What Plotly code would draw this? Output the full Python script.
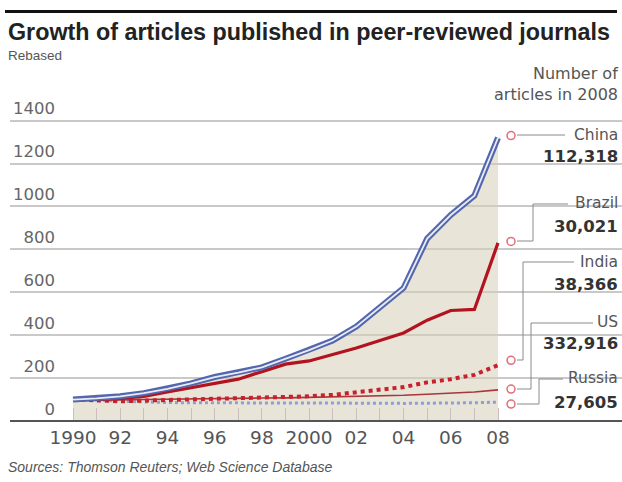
import plotly.graph_objects as go

years = list(range(1990, 2009))
china = [100, 105, 115, 130, 150, 175, 205, 225, 250, 290, 330, 375, 440, 530, 620, 850, 960, 1050, 1320]
brazil = [100, 100, 105, 115, 135, 155, 175, 195, 230, 265, 280, 310, 340, 375, 410, 470, 515, 520, 830]
india = [100, 95, 92, 95, 98, 100, 102, 105, 110, 112, 115, 122, 135, 145, 158, 180, 195, 215, 260]
us = [100, 98, 98, 100, 102, 104, 105, 106, 107, 108, 110, 112, 115, 118, 120, 125, 130, 135, 145]
russia = [100, 98, 92, 88, 86, 85, 85, 84, 85, 86, 86, 85, 84, 83, 82, 82, 83, 85, 88]

countries = ["China", "Brazil", "India", "US", "Russia"]
articles_2008 = ["112,318", "30,021", "38,366", "332,916", "27,605"]
marker_y = [1330, 837, 283, 149, 79]

x_tick_vals = years
x_tick_text = ["1990", "", "92", "", "94", "", "96", "", "98", "", "2000", "", "02", "", "04", "", "06", "", "08"]
y_tick_vals = [0, 200, 400, 600, 800, 1000, 1200, 1400]
y_tick_text = ["\u2007\u2007\u20070", "\u2007200", "\u2007400", "\u2007600", "\u2007800", "1000", "1200", "1400"]

W, H = 622, 482
PX0, PX1 = 10, 622           # plot area in pixels (x)
GRID_END = 505
PX_1990, PX_2008 = 73, 498
per_year = (PX_2008 - PX_1990) / 18
XR = [1990 - (PX_1990 - PX0) / per_year, 2008 + (PX1 - PX_2008) / per_year]
YR = [0, 1440]
Y_BOT, Y_TOP = 421, 112


def px2x(px):
    return XR[0] + (px - PX0) / (PX1 - PX0) * (XR[1] - XR[0])


def ppx(px):
    return px / W


def ppy(py):
    return (H - py) / H


fig = go.Figure()

fig.add_trace(go.Scatter(x=years, y=china, mode="lines", line=dict(width=0),
                         fill="tozeroy", fillcolor="rgba(214,206,184,0.55)", hoverinfo="skip"))
fig.add_trace(go.Scatter(x=years, y=russia, mode="lines",
                         line=dict(color="#8e9fd3", width=3, dash="dot")))
fig.add_trace(go.Scatter(x=years, y=us, mode="lines",
                         line=dict(color="#a8373a", width=1.6)))
fig.add_trace(go.Scatter(x=years, y=india, mode="lines",
                         line=dict(color="#c8202c", width=4, dash="dot")))
fig.add_trace(go.Scatter(x=years, y=brazil, mode="lines",
                         line=dict(color="#b3121f", width=3.2)))
fig.add_trace(go.Scatter(x=years, y=china, mode="lines",
                         line=dict(color="#5467ad", width=6)))
fig.add_trace(go.Scatter(x=years, y=china, mode="lines",
                         line=dict(color="#e8ecf8", width=1.8)))

fig.add_trace(go.Scatter(x=[px2x(511)] * len(marker_y), y=marker_y, mode="markers",
                         marker=dict(symbol="circle", size=8, color="white",
                                     line=dict(color="#e0707c", width=1.5)),
                         cliponaxis=False))

shapes = []
shapes.append(dict(type="rect", xref="paper", yref="paper", x0=ppx(GRID_END), x1=1.01,
                   y0=ppy(Y_BOT) - 0.01, y1=ppy(Y_TOP) + 0.01, fillcolor="white",
                   line=dict(width=0), layer="between"))
shapes.append(dict(type="line", xref="paper", yref="paper", x0=ppx(PX0), x1=1,
                   y0=ppy(Y_BOT), y1=ppy(Y_BOT), line=dict(color="#555555", width=2), layer="above"))

connectors = [
    (135, None, 135, 565),
    (241, 533, 204, 568),
    (360, 523, 262, 574),
    (389, 531, 323, 593),
    (404, 539, 379, 563),
]
for (my, ex, ly, endx) in connectors:
    if ex is None:
        pts = [(517, my), (endx, ly)]
    else:
        pts = [(517, my), (ex, my), (ex, ly), (endx, ly)]
    for (ax, ay), (bx, by) in zip(pts[:-1], pts[1:]):
        shapes.append(dict(type="line", xref="paper", yref="paper",
                           x0=ppx(ax), x1=ppx(bx), y0=ppy(ay), y1=ppy(by),
                           line=dict(color="#8a8a8a", width=1)))

label_name_py = [135, 203, 262, 322, 378]
label_val_py = [157, 226, 284, 343, 402]

FONT = "Liberation Sans, Arial, sans-serif"
WIDE = "DejaVu Sans, Verdana, sans-serif"


def ann(px, py, text, anchor, size, color, family=FONT):
    fig.add_annotation(x=ppx(px), y=ppy(py), xref="paper", yref="paper", text=text,
                       showarrow=False, xanchor=anchor, yanchor="middle",
                       font=dict(size=size, color=color, family=family))


for name, val, ny, vy in zip(countries, articles_2008, label_name_py, label_val_py):
    ann(620, ny, name, "right", 15.5, "#555", WIDE)
    ann(620, vy, "<b>" + val + "</b>", "right", 16.5, "#333", WIDE)

# top rule (as a filled annotation box)
fig.add_annotation(x=ppx(5), y=ppy(11.5), xref="paper", yref="paper", text=" ",
                   showarrow=False, xanchor="left", yanchor="middle",
                   width=612, height=3, bgcolor="#111111", borderpad=0, borderwidth=0,
                   font=dict(size=1, color="#111111"))

ann(6, 32, "<b>Growth of articles published in peer-reviewed journals</b>", "left", 23.3, "#222")
ann(6, 55, "Rebased", "left", 13.5, "#555")
ann(620, 73, "Number of", "right", 16, "#555", WIDE)
ann(620, 95, "articles in 2008", "right", 16, "#555", WIDE)
ann(6, 467, "<i>Sources: Thomson Reuters; Web Science Database</i>", "left", 14, "#555")

fig.update_layout(
    width=W, height=H,
    margin=dict(l=0, r=0, t=0, b=0, autoexpand=False),
    paper_bgcolor="white", plot_bgcolor="white",
    showlegend=False,
    shapes=shapes,
    xaxis=dict(domain=[PX0 / W, PX1 / W], range=XR, showgrid=False, zeroline=False,
               tickmode="array", tickvals=x_tick_vals, ticktext=x_tick_text,
               ticks="inside", ticklen=13, tickwidth=1, tickcolor="#cdbdbd",
               tickfont=dict(size=18.5, color="#555", family=WIDE), ticklabelstandoff=3),
    yaxis=dict(domain=[(H - Y_BOT) / H, (H - Y_TOP) / H], range=YR, showgrid=True,
               gridcolor="#c9c9c9", gridwidth=2, zeroline=False,
               tickmode="array", tickvals=y_tick_vals, ticktext=y_tick_text,
               ticklabelposition="inside", ticklabelshift=-12, ticklabeloverflow="allow", ticks="",
               tickfont=dict(size=16.5, color="#666", family=WIDE)),
)

fig.write_html("out.html")
